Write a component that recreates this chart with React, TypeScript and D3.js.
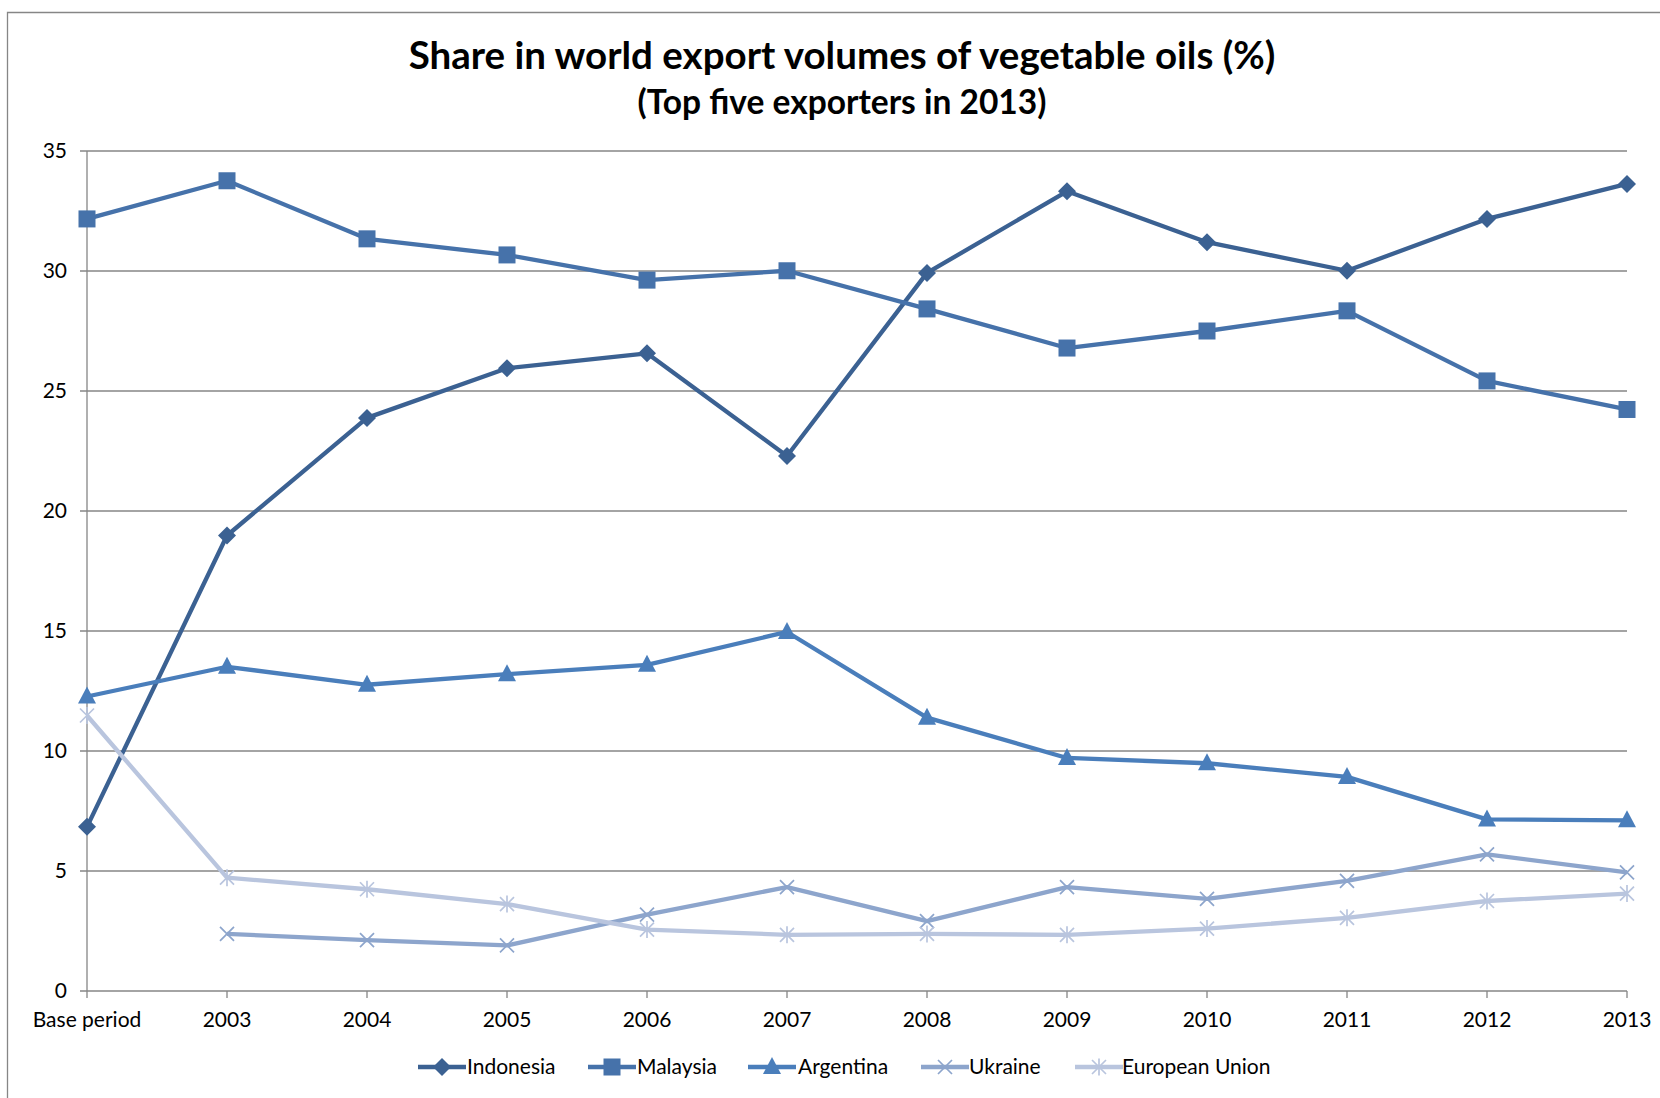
import React from "react";
import * as d3 from "d3";

const categories = ["Base period", "2003", "2004", "2005", "2006", "2007", "2008", "2009", "2010", "2011", "2012", "2013"];
const indonesia = [6.84, 18.98, 23.88, 25.95, 26.57, 22.29, 29.92, 33.32, 31.2, 30.01, 32.17, 33.63];
const malaysia = [32.17, 33.76, 31.34, 30.67, 29.62, 30.01, 28.42, 26.79, 27.5, 28.34, 25.42, 24.23];
const argentina = [12.27, 13.51, 12.76, 13.2, 13.59, 14.96, 11.39, 9.71, 9.49, 8.92, 7.15, 7.11];
const ukraine: (number | null)[] = [null, 2.38, 2.12, 1.9, 3.18, 4.33, 2.91, 4.33, 3.84, 4.59, 5.69, 4.94];
const eu = [11.48, 4.72, 4.24, 3.62, 2.56, 2.34, 2.38, 2.34, 2.6, 3.05, 3.75, 4.06];
const yTicks = [0, 5, 10, 15, 20, 25, 30, 35];

const seriesNames = ["Indonesia", "Malaysia", "Argentina", "Ukraine", "European Union"];
const seriesData = [indonesia, malaysia, argentina, ukraine, eu];
const seriesColors = ["#3B6192", "#4672AA", "#4A7EBB", "#8DA5CC", "#B9C5DE"];
const seriesMarkers = ["diamond", "square", "triangle", "x", "asterisk"];

const FONT = "Lato, 'Open Sans', sans-serif";

function Marker({ type, x, y, color }: { type: string; x: number; y: number; color: string }) {
  if (type === "diamond") {
    const s = 9;
    return <path d={`M${x},${y - s}L${x + s},${y}L${x},${y + s}L${x - s},${y}Z`} fill={color} />;
  }
  if (type === "square") {
    const s = 8.5;
    return <rect x={x - s} y={y - s} width={2 * s} height={2 * s} fill={color} />;
  }
  if (type === "triangle") {
    const s = 9;
    return <path d={`M${x},${y - s - 1}L${x + s},${y + s - 2}L${x - s},${y + s - 2}Z`} fill={color} />;
  }
  if (type === "x") {
    const s = 7;
    return (
      <path d={`M${x - s},${y - s}L${x + s},${y + s}M${x - s},${y + s}L${x + s},${y - s}`} stroke={color} strokeWidth={1.7} fill="none" />
    );
  }
  const s = 7;
  return (
    <path
      d={`M${x - s},${y - s}L${x + s},${y + s}M${x - s},${y + s}L${x + s},${y - s}M${x},${y - s - 1.5}L${x},${y + s + 1.5}`}
      stroke={color}
      strokeWidth={1.7}
      fill="none"
    />
  );
}

export default function App() {
  const W = 1660;
  const H = 1098;
  const left = 87;
  const right = 1627;
  const top = 151;
  const bottom = 991;

  const x = d3.scalePoint<string>().domain(categories).range([left, right]);
  const y = d3.scaleLinear().domain([0, 35]).range([bottom, top]);

  const line = d3
    .line<number | null>()
    .defined((d) => d !== null)
    .x((_, i) => x(categories[i]) as number)
    .y((d) => y(d as number));

  const legendItems = [
    { lx: 418, tx: 467 },
    { lx: 588, tx: 637 },
    { lx: 748, tx: 798 },
    { lx: 921, tx: 969 },
    { lx: 1075, tx: 1122 },
  ];
  const legendY = 1067;

  return (
    <svg width={W} height={H} style={{ position: "absolute", left: 0, top: 0, background: "#fff" }}>
      <rect x={0} y={0} width={W} height={H} fill="#fff" />
      <path d={`M7.5,${H}L7.5,12.5L${W},12.5`} stroke="#868686" strokeWidth={1.3} fill="none" />

      <text x={842} y={69} textAnchor="middle" fontFamily={FONT} fontWeight="bold" fontSize={38.5} fill="#000">
        Share in world export volumes of vegetable oils (%)
      </text>
      <text x={842} y={114} textAnchor="middle" fontFamily={FONT} fontWeight="bold" fontSize={33.5} fill="#000">
        (Top five exporters in 2013)
      </text>

      {yTicks.map((t) => (
        <g key={t}>
          <line x1={left - 7} x2={right} y1={y(t)} y2={y(t)} stroke="#868686" strokeWidth={1.3} />
          <text x={67} y={y(t) + 7} textAnchor="end" fontFamily={FONT} fontSize={21} fill="#000">
            {t}
          </text>
        </g>
      ))}
      <line x1={left} x2={left} y1={top} y2={bottom} stroke="#868686" strokeWidth={1.3} />
      {categories.map((c) => (
        <g key={c}>
          <line x1={x(c)} x2={x(c)} y1={bottom} y2={bottom + 7} stroke="#868686" strokeWidth={1.3} />
          <text x={x(c)} y={bottom + 36} textAnchor="middle" fontFamily={FONT} fontSize={21} fill="#000">
            {c}
          </text>
        </g>
      ))}

      {seriesData.map((data, si) => (
        <g key={seriesNames[si]}>
          <path d={line(data) || ""} stroke={seriesColors[si]} strokeWidth={4.3} fill="none" strokeLinejoin="round" />
          {data.map((v, i) =>
            v === null ? null : (
              <Marker key={i} type={seriesMarkers[si]} x={x(categories[i]) as number} y={y(v)} color={seriesColors[si]} />
            )
          )}
        </g>
      ))}

      {seriesNames.map((n, si) => {
        const it = legendItems[si];
        return (
          <g key={n}>
            <line x1={it.lx} x2={it.lx + 48} y1={legendY} y2={legendY} stroke={seriesColors[si]} strokeWidth={4.3} />
            <Marker type={seriesMarkers[si]} x={it.lx + 24} y={legendY} color={seriesColors[si]} />
            <text x={it.tx} y={legendY + 7} fontFamily={FONT} fontSize={21} fill="#000">
              {n}
            </text>
          </g>
        );
      })}
    </svg>
  );
}
